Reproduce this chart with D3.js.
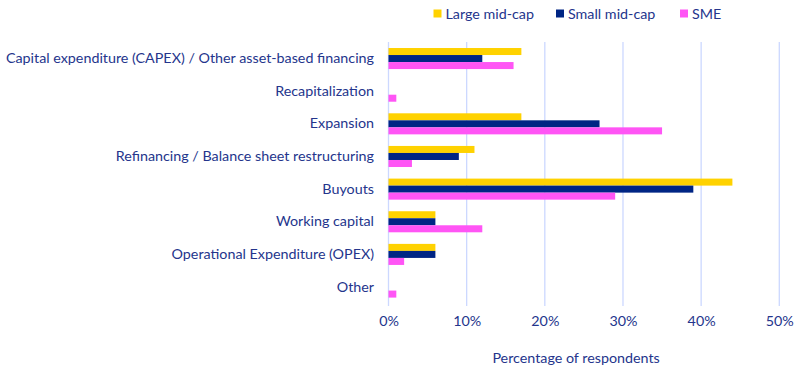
<!DOCTYPE html>
<html><head><meta charset="utf-8">
<script src="https://cdn.jsdelivr.net/npm/d3@7"></script>
<style>body{margin:0;background:#fff}</style>
</head><body>
<script>
const categories = ["Capital expenditure (CAPEX) / Other asset-based financing","Recapitalization","Expansion","Refinancing / Balance sheet restructuring","Buyouts","Working capital","Operational Expenditure (OPEX)","Other"];
const seriesNames = ["Large mid-cap","Small mid-cap","SME"];
const largeMidCap = [17,0,17,11,44,6,6,0];
const smallMidCap = [12,0,27,9,39,6,6,0];
const sme = [16,1,35,3,29,12,2,1];
const tickValues = [0,10,20,30,40,50];
const colors = ["#FFD200","#002584","#FF55F5"];
const seriesData = [largeMidCap, smallMidCap, sme];

const W=800,H=381;
const textColor="#24358C";
const font="Lato, 'Open Sans', sans-serif";
const fs=14.3;
const svg=d3.select("body").append("svg").attr("width",W).attr("height",H);
const x=d3.scaleLinear().domain([0,50]).range([388.5,779.3]);
const y=d3.scaleBand().domain(categories).range([42.2,303.4]).paddingInner(0.355).paddingOuter(0.178);
const yInner=d3.scaleBand().domain(seriesNames).range([0,y.bandwidth()]);

// gridlines
svg.append("g").selectAll("line").data(tickValues).join("line")
 .attr("x1",d=>x(d)).attr("x2",d=>x(d)).attr("y1",42).attr("y2",306)
 .attr("stroke","#CCD8FF").attr("stroke-width",1.3);

// bars
const g=svg.append("g");
seriesData.forEach((vals,si)=>{
  g.selectAll(null).data(vals).join("rect")
   .attr("x",x(0)).attr("y",(d,i)=>y(categories[i])+yInner(seriesNames[si]))
   .attr("width",d=>x(d)-x(0)).attr("height",yInner.bandwidth())
   .attr("fill",colors[si]);
});

// y labels
const yAxis=d3.axisLeft(y).tickSize(0).tickPadding(0);
const ya=svg.append("g").attr("transform","translate(374,0)").call(yAxis);
ya.select(".domain").remove();
ya.selectAll("text").attr("fill",textColor).attr("font-family",font).attr("font-size",fs);

// x labels
const xAxis=d3.axisBottom(x).tickValues(tickValues).tickFormat(d=>d+"%").tickSize(0).tickPadding(0);
const xa=svg.append("g").attr("transform","translate(0,316)").call(xAxis);
xa.select(".domain").remove();
xa.selectAll("text").attr("fill",textColor).attr("font-family",font).attr("font-size",fs);

svg.append("text").attr("x",x(24)).attr("y",363).attr("text-anchor","middle")
 .attr("fill",textColor).attr("font-family",font).attr("font-size",fs).text("Percentage of respondents");

// legend
const legX=[433.5,556,680];
const leg=svg.append("g").selectAll("g").data(seriesNames).join("g")
 .attr("transform",(d,i)=>`translate(${legX[i]},9.5)`);
leg.append("rect").attr("width",8).attr("height",8).attr("fill",(d,i)=>colors[i]);
leg.append("text").attr("x",12).attr("y",9).attr("fill",textColor).attr("font-family",font).attr("font-size",fs).text(d=>d);
</script>
</body></html>
